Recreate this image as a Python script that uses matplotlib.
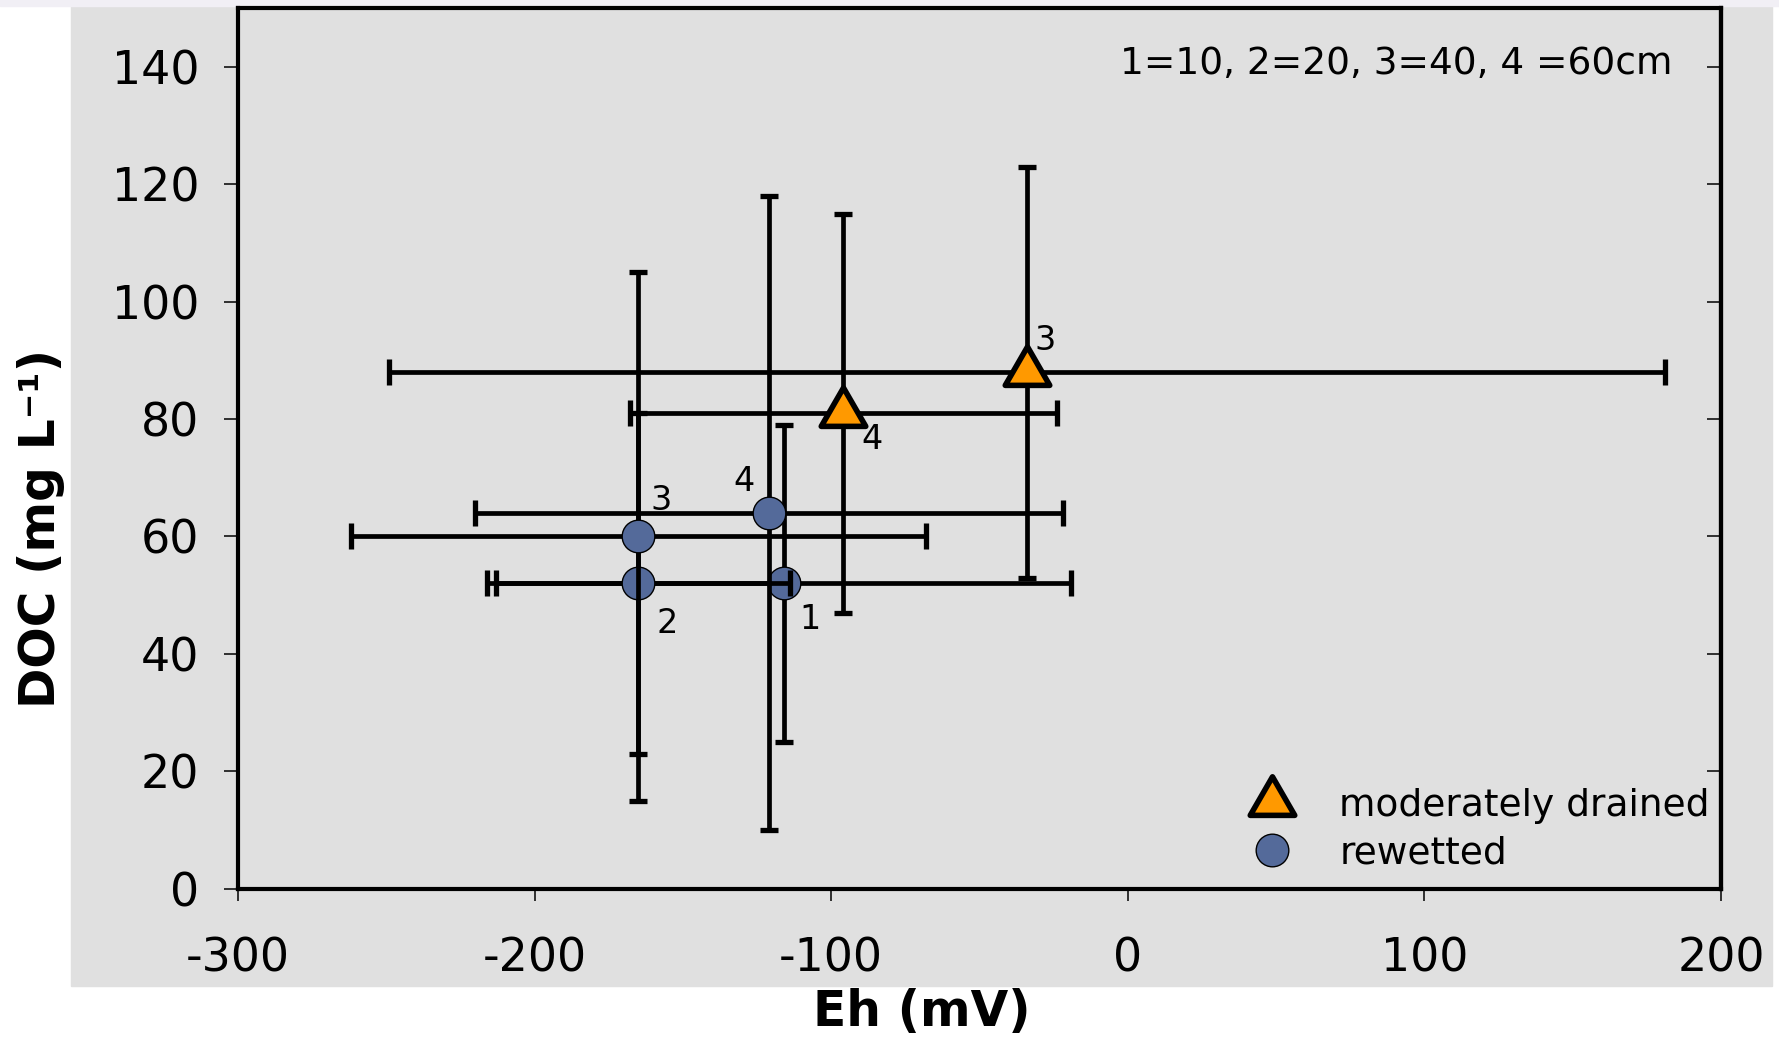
import matplotlib
matplotlib.use("Agg")
import matplotlib.pyplot as plt
from matplotlib.lines import Line2D
from matplotlib.markers import MarkerStyle
from matplotlib.patches import Rectangle
from matplotlib.path import Path

# Eh (mV) and DOC (mg/L) means with standard deviations, labelled by depth class
drained_eh = [-34, -96]
drained_eh_err = [215, 72]
drained_doc = [88, 81]
drained_doc_err = [35, 34]
drained_depth = ["3", "4"]

rewetted_eh = [-116, -165, -165, -121]
rewetted_eh_err = [97, 51, 97, 99]
rewetted_doc = [52, 52, 60, 64]
rewetted_doc_err = [27, 29, 45, 54]
rewetted_depth = ["1", "2", "3", "4"]

x_ticks = [-300, -200, -100, 0, 100, 200]
y_ticks = [0, 20, 40, 60, 80, 100, 120, 140]

# label offsets (points) relative to each marker
drained_offsets = [(13, 23), (21, -19)]
rewetted_offsets = [(19, -26), (21, -29), (16, 26), (-18, 23)]

plt.rcParams["font.family"] = ["DejaVu Sans"]
plt.rcParams["axes.unicode_minus"] = False

W, H = 1779, 1040
fig = plt.figure(figsize=(W / 100, H / 100), dpi=100, facecolor="white")

# grey chart area and thin top strip
fig.patches.append(Rectangle((71 / W, 1 - 986 / H), (1772 - 71) / W, (986 - 6) / H,
                             transform=fig.transFigure, color="#e0e0e0", zorder=-10))
fig.patches.append(Rectangle((0, 1 - 6 / H), 1, 6 / H, transform=fig.transFigure,
                             color="#f1eff5", zorder=-10))

ax = fig.add_axes([238 / W, (H - 888.8) / H, (1721 - 238) / W, 880.8 / H])
ax.set_facecolor("#e0e0e0")

tri_path = Path([(0, 0.577), (-0.5, -0.289), (0.5, -0.289), (0, 0.577)],
                [Path.MOVETO, Path.LINETO, Path.LINETO, Path.CLOSEPOLY])
tri = MarkerStyle(tri_path, joinstyle="round")
orange = "#ff9900"
blue = "#546a9a"
lw = 3.4

z = 3
for x, xe, y, ye in zip(rewetted_eh, rewetted_eh_err, rewetted_doc, rewetted_doc_err):
    ax.errorbar(x, y, yerr=ye, fmt="none", ecolor="black", elinewidth=lw,
                capsize=6.4, capthick=3.8, zorder=z)
    ax.errorbar(x, y, xerr=xe, fmt="none", ecolor="black", elinewidth=lw,
                capsize=9.6, capthick=3.8, zorder=z)
    ax.plot(x, y, marker="o", ms=23.5, mfc=blue, mec="black", mew=1.0,
            linestyle="none", zorder=z + 0.5)
    z += 1

for x, xe, y, ye in zip(drained_eh, drained_eh_err, drained_doc, drained_doc_err):
    ax.errorbar(x, y, yerr=ye, fmt="none", ecolor="black", elinewidth=lw,
                capsize=6.4, capthick=3.8, zorder=z)
    ax.errorbar(x, y, xerr=xe, fmt="none", ecolor="black", elinewidth=lw,
                capsize=9.6, capthick=3.8, zorder=z)
    ax.plot(x, y, marker=tri, ms=37, mfc=orange, mec="black", mew=4,
            linestyle="none", zorder=z + 0.5)
    z += 1

for x, y, lab, off in zip(rewetted_eh, rewetted_doc, rewetted_depth, rewetted_offsets):
    ax.annotate(lab, (x, y), xytext=off, textcoords="offset points",
                ha="center", va="center", fontsize=24, zorder=20)
for x, y, lab, off in zip(drained_eh, drained_doc, drained_depth, drained_offsets):
    ax.annotate(lab, (x, y), xytext=off, textcoords="offset points",
                ha="center", va="center", fontsize=24, zorder=20)

ax.set_xlim(-300, 200)
ax.set_ylim(0, 150)
ax.set_xticks(x_ticks)
ax.set_yticks(y_ticks)
ax.set_xticklabels([str(v) for v in x_ticks])
ax.set_yticklabels([str(v) for v in y_ticks])

for s in ax.spines.values():
    s.set_linewidth(3)
    s.set_color("black")

ax.tick_params(axis="x", direction="out", length=8.6, width=1.1, pad=26,
               labelsize=33, top=False)
ax.tick_params(axis="y", direction="out", length=10, width=1.1, pad=18,
               labelsize=33, right=False)

sec = ax.secondary_yaxis("right")
sec.set_yticks(y_ticks)
sec.tick_params(axis="y", direction="in", length=10, width=1.1, labelright=False)
sec.spines["right"].set_linewidth(3)

ax.text(0.5947, 0.9251, "1=10, 2=20, 3=40, 4 =60cm", transform=ax.transAxes,
        ha="left", va="baseline", fontsize=27)

handles = [
    Line2D([], [], marker=tri, ms=37, mfc=orange, mec="black", mew=4, linestyle="none"),
    Line2D([], [], marker="o", ms=23.5, mfc=blue, mec="black", mew=1.0, linestyle="none"),
]
ax.legend(handles, ["moderately drained", "rewetted"], loc="center left",
          bbox_to_anchor=(0.6844, 0.0673), frameon=False, fontsize=27,
          handlelength=1.0, handletextpad=1.3, labelspacing=0.32,
          borderpad=0, borderaxespad=0)

fig.text(921.7 / W, 1 - 1012 / H, "Eh (mV)", ha="center", va="center",
         fontsize=35, fontweight="bold")
fig.text(41 / W, 1 - 528 / H, "DOC (mg L\u207b\u00b9)", rotation=90,
         ha="center", va="center", fontsize=35, fontweight="bold")

fig.savefig("out.png", dpi=100, facecolor=fig.get_facecolor())
